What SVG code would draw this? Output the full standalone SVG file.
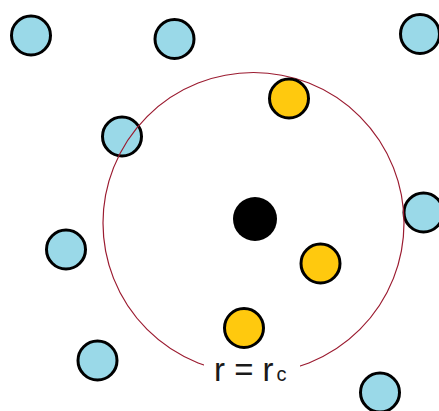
<svg xmlns="http://www.w3.org/2000/svg" width="439" height="411" viewBox="0 0 439 411">
<style>
.blue{fill:#9ad9e8;stroke:#000;stroke-width:3}
.yellow{fill:#ffc90e;stroke:#000;stroke-width:3}
.center{fill:#000}
.range{fill:none;stroke:#9b1b30;stroke-width:1.2}
.label{font-family:"Liberation Sans",Arial,sans-serif;fill:#1a1a1a}
</style>
<rect width="439" height="411" fill="#fff"/>
<g id="nodes">
<g id="b1"><circle class="blue" cx="31" cy="35.5" r="19.5"/></g>
<g id="b2"><circle class="blue" cx="174.5" cy="39" r="19.5"/></g>
<g id="b3"><circle class="blue" cx="420" cy="34" r="19.5"/></g>
<g id="b4"><circle class="blue" cx="122" cy="136.5" r="19.5"/></g>
<g id="b5"><circle class="blue" cx="423.5" cy="212.5" r="19.5"/></g>
<g id="b6"><circle class="blue" cx="66" cy="249.5" r="19.5"/></g>
<g id="b7"><circle class="blue" cx="97.5" cy="360.5" r="19.5"/></g>
<g id="b8"><circle class="blue" cx="380" cy="392.5" r="19.5"/></g>
</g>
<g id="range-circle">
<circle class="range" cx="253.5" cy="223" r="150.5"/>
</g>
<g id="inner-nodes">
<g id="y1"><circle class="yellow" cx="289" cy="98.5" r="19.5"/></g>
<g id="y2"><circle class="yellow" cx="320.5" cy="263.5" r="19.5"/></g>
<g id="y3"><circle class="yellow" cx="244" cy="328" r="19.5"/></g>
<g id="c0"><circle class="center" cx="255" cy="219" r="22"/></g>
</g>
<g id="label">
<rect x="204" y="356" width="96" height="30" fill="#fff"/>
<text class="label" x="214" y="381" font-size="33">r = r<tspan font-size="20" dx="3">c</tspan></text>
</g>
</svg>
